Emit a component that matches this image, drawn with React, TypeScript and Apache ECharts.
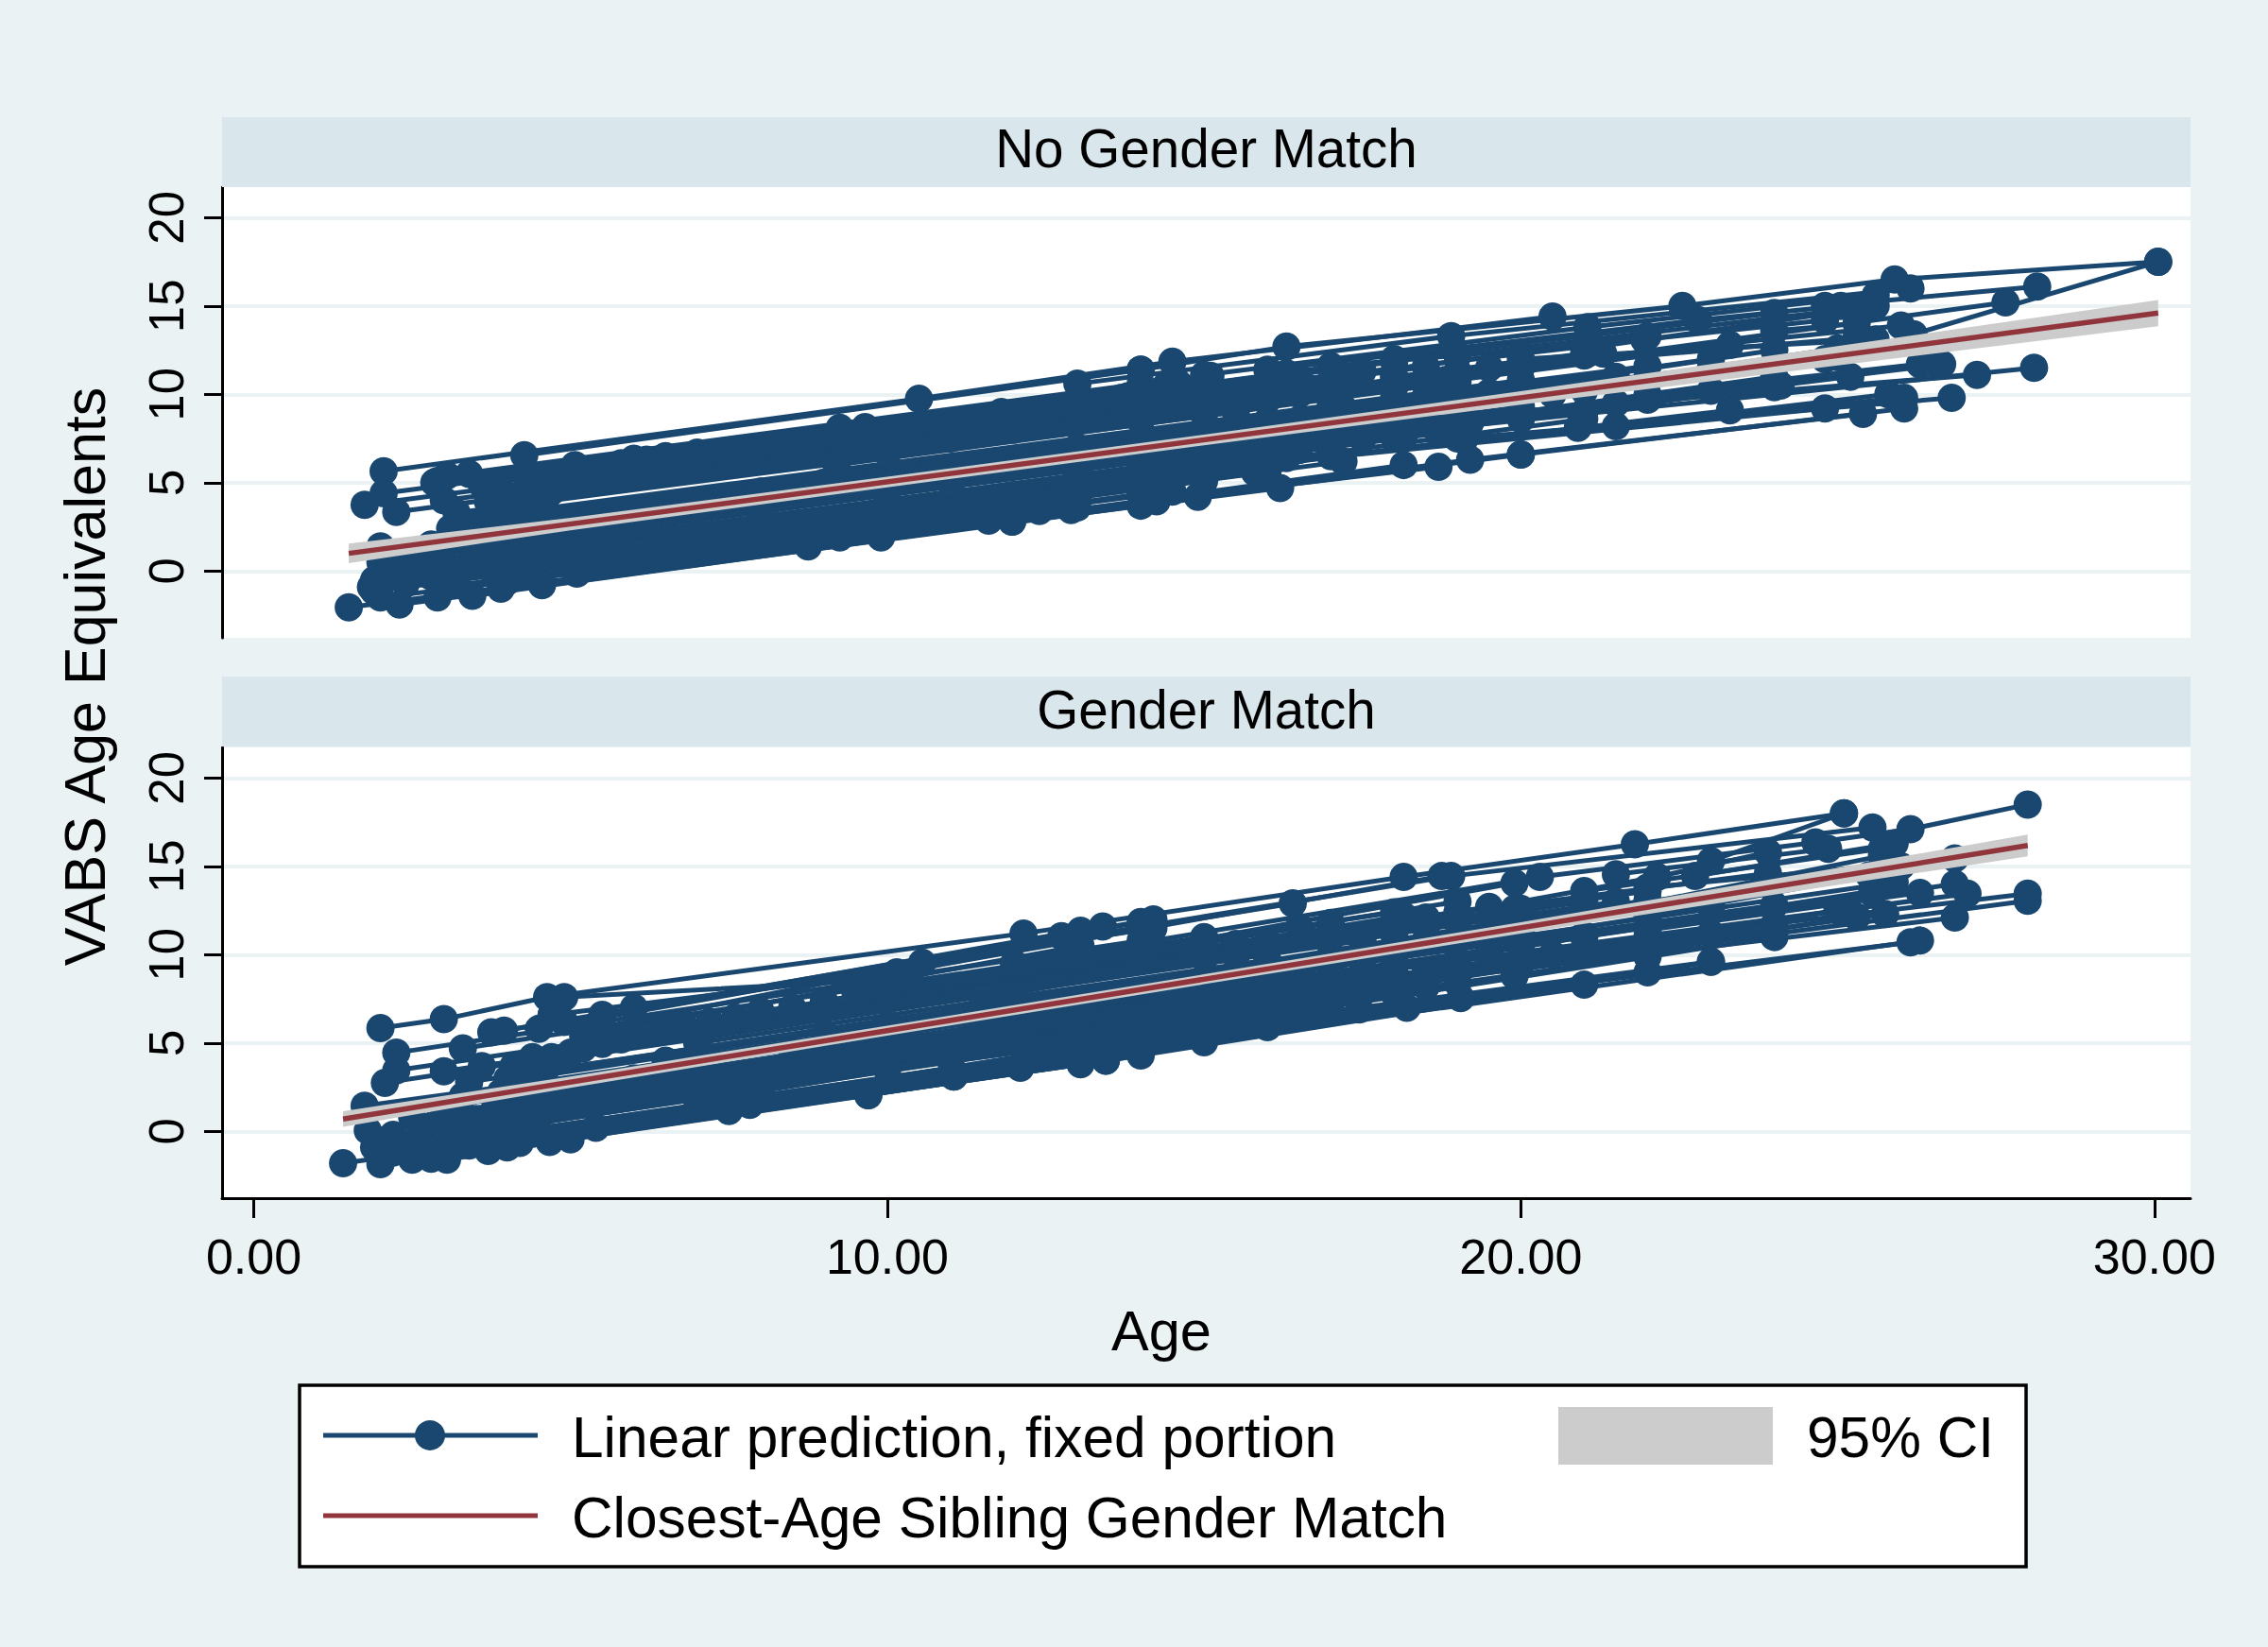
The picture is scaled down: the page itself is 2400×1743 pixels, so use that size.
import React, { useEffect, useRef } from "react";
import * as echarts from "echarts";

const xTicks = [0, 10, 20, 30];
const yTicks = [0, 5, 10, 15, 20];
const panelTitles = ["No Gender Match", "Gender Match"];
const legendLabels = ["Linear prediction, fixed portion", "Closest-Age Sibling Gender Match", "95% CI"];

// Each row: x, y, x, y, ... of one connected trajectory.
const noMatchPaths: number[][] = [
  [1.5,-2.05,16.2,4.7],[2.3,-1.9,14,3.7],[2,-1.5,14.25,3.95],[2.9,-1.5,12.9,3.45],[3.45,-1.4,14.9,4.2],
  [3.9,-1,11.97,2.8],[4.55,-0.8,11.6,2.85],[5.1,-0.15,12.4,3.4],[1.9,-1.15,13,4.1],[1.85,-0.9,14.2,4.9],
  [1.9,-0.5,15,5.4],[2.4,-0.7,15.8,5.6],[3,-0.9,14.5,4.5],[2.1,-0.2,16.3,6.4],[2.4,-0.1,17,6.7],
  [2.8,-0.3,16,5.9],[3.2,-0.4,17.2,6.2],[2.2,0.2,18.15,7.6],[2.6,0.3,17,7.1],[2,0.5,16.5,7.4],
  [2.9,0.4,18.7,7.8],[2.3,0.7,15.5,6.9],[3.3,0.2,19.1,7.4],[3.6,0.5,15.2,6],[2,1.4,19,9.4],
  [2.5,1,18,8.3],[3,1,16.8,7.5],[3.5,1,20,8.6],[4,1.2,17,7.3],[2.8,1.5,18.4,8.8],
  [3.2,1.9,20.5,10],[3.1,2.4,19.5,10.1],[3.5,2.2,16,8.1],[4,2.1,18,8.7],[3.2,3.3,15.5,9],
  [3.6,2.8,17.2,9.2],[2.25,3.35,16.5,10],[4.3,3.2,18.5,9.9],[1.75,3.75,14.1,9.5],[3.7,3.9,16,9.7],
  [3,4,17.3,10.7],[2.05,4.4,13.8,9.9],[4.5,4,18.8,10.8],[3.9,4.6,15.5,10.1],[2.85,5,14.4,10.5],
  [3.05,5.4,14,10.6],[3.4,5.5,15.1,11.05],[4.8,5,16.2,10.4],[4.27,6.55,14,11.4],[5.07,6,14.6,10.6],
  [5,5.6,13.7,9.8],[4.5,5.3,12.9,9.4],[2.05,5.65,10.5,9.75,14.5,11.85,20.5,14.4],[2.9,5.1,9.25,8.1],[3.6,4.9,9.65,8.15],
  [6.2,6.3,11.8,9],[7,6.7,16.3,11.2],[5.5,2.5,14.5,6.9],[6,3,15,7.3],[6,1,14,4.9],
  [6.5,1.3,16,6],[7,3.5,16.5,8.1],[7.2,2,16,6.4],[8,4.5,17,8.7],[8,3,17.5,7.5],
  [8.75,1.4,18.15,6],[9.25,1.9,18.7,5.9],[9.9,1.9,20,6.6],[9,5,18,9.2],[9.2,6,19,10.7],
  [10,4,19.2,8.4],[10,6.7,20,11.5],[11,5,20,9.3],[11,7.5,21.3,12.3],[11.97,2.8,19.2,6.3,25.4,8.9],
  [12,8,21.05,12.3],[12,4.3,21,8.6],[13,9.4,21.95,13.1],[13,5.4,22,9.7],[13,7,21.5,11],
  [14,6,23,10.2],[14,8.5,23.3,12.8],[14,11.4,16.3,12.7,22.55,15,25.9,16.5,30.06,17.5],
  [13,10.6,18.9,13.3,26.15,16],[15,11.1,21.05,13.8,25.6,15.6],[16,11.4,22.8,14.2,25.05,15],[17,11.6,21.95,13.1,24.8,14.2],
  [19,11.3,26,13.9],[26.2,13.4,30.06,17.5],[18,11,25.3,13.2],[24.8,15,28.15,16.1],[20,11.5,27.65,15.2],
  [19,12.2,25.6,15],[20,12,25.6,13.1],[21,12.6,25.3,14.8],[16,8.5,24.8,12],[17,7.5,26.65,11.7],
  [18,7.8,28.1,11.5],[17,8.2,27.2,11.1],[19,7.5,26.8,9.8],[20,6.6,26.05,9.2],[20.9,8.1,26.05,9.8],
  [21.5,8.2,25.8,10],[20,8.7,25.2,11],[21,9,24.1,10.5],[21.5,9.5,26.3,11.7],[15,5.6,23.3,9.1],
  [16,6.1,24.8,9.2],[16,7.4,24,10.4],[22,10,26.5,11.8],[21,10.2,25,12.1],[22,11,25,12.6],
  [20,10.4,24,12.5],[18,9.8,22,11.6],[19,9.8,23,11.5],[18,11,21,12.3],[24,13.6,25.3,14],
  [4,-0.6,13,3.6],[4.2,-0.3,14,4.35],[3.8,-0.2,15,5.1],[4,0.05,16,5.6],[4.3,0.35,14.5,5.15],
  [3.9,0.5,17,6.5],[4.1,0.75,15.5,6.1],[4,1,16.5,6.85],[4.4,1.25,18,7.6],[3.8,1.4,15,6.7],
  [4.2,1.65,17.5,7.95],[4,1.9,16,7.5],[4.5,2.1,19,8.9],[3.9,2.3,15.5,7.75],[4.1,2.55,18,9.1],
  [4.3,2.8,16.5,8.55],[4,3.05,19,10.1],[4.2,3.3,17,9.35],[4.6,3.55,20,10.8],[4.1,3.75,15,8.9],
  [4.4,4,18,10.4],[4,4.25,16,9.9],[4.7,4.5,19.5,11.5],[4.3,4.7,17,10.7],[4.5,4.95,18.5,11.55],
  [5,5.25,16,10.4],[5.2,5.5,17.5,11.3],[5.5,5.8,16.5,10.95],[5.8,6.1,18,11.85],[6,6.35,15,10.6],
  [6.5,6.5,17,11.55],[17,9,23,12],[18,8,24,11],[18,12,24,14.6],[15,9.3,21,12.2],[16,10.5,22,13.3],
];

const matchPaths: number[][] = [
  [1.41,-1.8,12.1,3.6],[2,-1.85,13.05,3.8],[2.5,-1.6,13.45,4],[2.8,-1.55,14,4.6],[3.05,-1.6,11.05,3.1],
  [3.7,-1.1,9.7,2.05],[4.67,-0.6,7.83,1.5,17.45,6.9],[5,-0.45,7.5,1.15,18.2,7],[5.4,0.2,19.05,7.55],[2.2,-1.2,15,5.6],
  [1.9,-0.9,16,6.6],[2,-0.6,15.5,6.8],[2.4,-0.9,14.5,5.4],[3,-1,15.7,6.2],[1.8,0.05,16.5,7.5],
  [2.2,-0.2,17,7.6],[2.6,-0.4,18,8.1],[3.4,-0.8,16.7,6.9],[3.2,-0.2,18.5,8.2],[2.8,0.3,17.3,8],
  [3.6,0,19,8.4],[4,0.2,16,6.8],[1.75,1.45,17,8.9],[2.5,0.8,18,9],[3,0.9,19.9,8.8],
  [3.5,0.7,20.5,10],[4,1,18.7,9.2],[4.5,0.8,17.8,8.4],[3.2,1.5,21,11.1],[2.07,2.75,16,10.3],
  [3.3,2,17.5,9.6],[3.9,1.8,19.5,10.2],[4.6,1.5,21,11],[2.25,3.45,15.5,10.4],[3.4,2.8,20,11.6],
  [3,3.4,18.5,11.5],[4.1,2.9,17,10],[3.6,3.7,21.5,13],[2.25,4.45,14,10.8],[3.3,4.7,15,11],
  [3.75,5.6,16.4,12.9],[3.95,5.7,14.2,12],[4.5,5.8,14,11.85],[4.4,4.2,18.15,12.2],[5,4.4,19.9,12.6],
  [4.9,6.2,13.4,11.6],[5.2,5.4,13.05,10.5],[5.5,5.9,12.75,11.05],[2,5.85,3,6.35,4.63,7.6,12.15,11.2,18.15,14.4,21.8,16.25,25.1,18],
  [4.9,7.6,9.8,8.55,13.05,11.35],[4.7,6.6,10.15,9,18.75,14.45],[5.5,6.6,10.55,9.55,18.9,14.45,25.55,17.2],[6,7,14.2,11.5],
  [6,3,16,8.3],[6.5,4,17,9.6],[7,1.7,15,6.3],[7,5,16,9.7],[7,3,18,9.5],
  [8,6.8,17,11.8],[8,2.5,19,8.9],[8.5,4.5,20,11.3],[9,5.5,21,12.6],[9,7.3,19,13],
  [9.7,2.05,22,9],[10,3.5,23,9.6],[10,6,22,13.1],[10.5,8,19.9,14.05],[11,4,26.15,10.7],
  [11.5,7.5,22.15,14.4],[11.05,3.1,26.3,10.8],[12,5.5,22,11],[12,9.5,20.3,14.4,24.65,16.35,26.15,17.1,28,18.5],[13,4.8,24,11],
  [13,7,23,12.7],[13.45,4,21,8.3],[14,6.3,25,12.5],[14,4.6,23,9.6],[15,8,26.85,14],
  [15,6.5,25.3,12.15],[14.5,7.5,25.55,13.45],[16,7.5,26.85,12.1],[17,7.9,28,13.05],[17,8.8,28,13.45],
  [18,9.2,27.05,13.45],[18,10,25.9,14.1],[19,9,25.75,12.3],[20,9.5,25,12.5],[20,10.5,25.55,13.6],
  [20,11.5,25.7,15.6],[19,12.4,23.9,14.6],[21.5,14.55,24.85,16],[22.15,14.4,23.9,15.8],[21,13.6,25.7,16],
  [22,13.8,26.85,15.45],[22.75,14.45,25.9,16.3],[23,15.3,25.1,18],[20,12,26,15],[22,11.4,26.3,13.5],[22,12.2,25.5,14.5],
  [4,-0.9,14,4.3],[4.2,-0.65,15,5.05],[3.8,-0.5,16,5.9],[4,-0.25,14.5,5.3],[4.3,0.05,17,6.75],
  [3.9,0.3,15.5,6.45],[4.1,0.55,18,7.8],[4,0.8,16,7.2],[4.4,1.05,17.5,8],[3.8,1.25,15,7.2],
  [4.2,1.5,18.5,9.05],[4,1.75,16,8.15],[4.5,2,19,9.7],[3.9,2.2,16.5,8.9],[4.1,2.45,18,9.85],
  [4.3,2.7,17,9.45],[4,2.95,19.5,11.2],[4.2,3.2,16,9.5],[4.6,3.45,20,11.6],[4.1,3.7,17.5,10.8],
  [4.4,3.95,18,11.15],[4.7,4.2,15.5,9.95],[5,4.45,19,11.85],[5.2,4.7,17,10.95],[5.5,4.95,20,12.6],
  [5.8,5.2,16,10.6],[6,5.45,18.5,12.1],[6.4,5.7,17,11.3],[6.8,5.95,19.5,12.7],[7.2,6.2,15.5,10.6],
  [7.6,6.45,18,12],[8,6.7,14,9.9],[8.5,7,17,11.5],[9,7.4,15,10.6],[9.5,7.8,16.5,11.55],[10,8.1,18,12.4],
  [17,8.4,23,11.2],[17,9.3,24,12.8],[18,8.6,24,11.7],[16,6.9,22,9.9],[15,9.8,21,13],[16,10.6,22,13.6],
];

const noMatchFitX = [1.5, 30.06];
const noMatchFitY = [1.0, 14.6];
const noMatchCiX = [1.5, 5, 10, 15, 20, 25, 30.06];
const noMatchCiLow = [0.45, 2.31, 4.74, 7.12, 9.42, 11.63, 13.86];
const noMatchCiHigh = [1.55, 3.01, 5.34, 7.72, 10.18, 12.73, 15.34];

const matchFitX = [1.41, 28];
const matchFitY = [0.7, 16.18];
const matchCiX = [1.41, 5, 10, 15, 20, 25, 28];
const matchCiLow = [0.26, 2.47, 5.42, 8.33, 11.2, 13.95, 15.56];
const matchCiHigh = [1.14, 3.11, 5.98, 8.89, 11.84, 14.91, 16.8];

const NAVY = "#1a476f";
const MAROON = "#90353b";
const GREY = "#cccccc";
const FONT = "Liberation Sans";

const pairs = (row: number[]) => {
  const out: number[][] = [];
  for (let i = 0; i < row.length; i += 2) out.push([row[i], row[i + 1]]);
  return out;
};
const zip = (a: number[], b: number[]) => a.map((v, i) => [v, b[i]]);

function panelSeries(idx: number, paths: number[][], fx: number[], fy: number[], cx: number[], lo: number[], hi: number[]) {
  const list: any[] = paths.map((row) => ({
    type: "line",
    xAxisIndex: idx,
    yAxisIndex: idx,
    data: pairs(row),
    symbol: "circle",
    symbolSize: 30,
    showAllSymbol: true,
    clip: false,
    silent: true,
    z: 3,
    lineStyle: { color: NAVY, width: 5 },
    itemStyle: { color: NAVY },
  }));
  list.push({
    type: "custom",
    xAxisIndex: idx,
    yAxisIndex: idx,
    silent: true,
    z: 4,
    data: cx.map((x, i) => [x, lo[i], hi[i]]),
    encode: { x: 0, y: [1, 2] },
    renderItem: (params: any, api: any) => {
      if (params.dataIndex !== 0) return null;
      const top = cx.map((x, i) => api.coord([x, hi[i]]));
      const bot = cx.map((x, i) => api.coord([x, lo[i]])).reverse();
      return { type: "polygon", shape: { points: top.concat(bot) }, style: { fill: GREY } };
    },
  });
  list.push({
    type: "line",
    xAxisIndex: idx,
    yAxisIndex: idx,
    data: zip(fx, fy),
    symbol: "none",
    silent: true,
    z: 5,
    lineStyle: { color: MAROON, width: 5.5 },
  });
  return list;
}

const GRID_LEFT = 235;
const GRID_W = 2083;
const GRID_H = 477;
const TOPS = [198, 791];
const STRIPS = [124, 716];

const txt = (text: string, x: number, y: number, size: number, extra: any = {}, rotation = 0) => ({
  type: "text",
  x,
  y,
  z: 20,
  rotation,
  style: { text, fontSize: size, fontFamily: FONT, fill: "#000", align: "left", verticalAlign: "middle", ...extra },
});

export default function App() {
  const ref = useRef<HTMLDivElement>(null);
  useEffect(() => {
    document.body.style.margin = "0";
    const chart = echarts.init(ref.current!, null, { renderer: "svg" });
    const yAxis = (gridIndex: number) => ({
      type: "value",
      gridIndex,
      min: -3.78,
      max: 21.73,
      axisLine: { show: true, onZero: false, lineStyle: { color: "#000", width: 3 } },
      axisTick: { show: true, length: 19, customValues: yTicks, lineStyle: { color: "#000", width: 3 } },
      axisLabel: { customValues: yTicks, rotate: 90, fontSize: 51, fontFamily: FONT, color: "#000", margin: 33 },
      splitLine: { show: true, lineStyle: { color: "#eaf2f3", width: 4 } },
    });
    const xAxis = (gridIndex: number, visible: boolean) => ({
      type: "value",
      gridIndex,
      min: -0.5,
      max: 30.57,
      axisLine: { show: visible, onZero: false, lineStyle: { color: "#000", width: 3 } },
      axisTick: { show: visible, length: 21, customValues: xTicks, lineStyle: { color: "#000", width: 3 } },
      axisLabel: {
        show: visible,
        customValues: xTicks,
        fontSize: 52,
        fontFamily: FONT,
        color: "#000",
        margin: 36,
        formatter: (v: number) => v.toFixed(2),
      },
      splitLine: { show: false },
    });
    const strips = STRIPS.map((y) => ({
      type: "rect",
      z: 1,
      shape: { x: GRID_LEFT, y, width: GRID_W, height: 74 },
      style: { fill: "#d9e6eb" },
    }));
    const titles = panelTitles.map((t, i) =>
      txt(t, 1276.5, STRIPS[i] + 33 + i * 2, 56.6, { align: "center" }),
    );
    chart.setOption({
      animation: false,
      backgroundColor: "#eaf2f3",
      grid: TOPS.map((top) => ({
        left: GRID_LEFT,
        top,
        width: GRID_W,
        height: GRID_H,
        show: true,
        backgroundColor: "#fff",
        borderWidth: 0,
      })),
      xAxis: [xAxis(0, false), xAxis(1, true)],
      yAxis: [yAxis(0), yAxis(1)],
      series: [
        ...panelSeries(0, noMatchPaths, noMatchFitX, noMatchFitY, noMatchCiX, noMatchCiLow, noMatchCiHigh),
        ...panelSeries(1, matchPaths, matchFitX, matchFitY, matchCiX, matchCiLow, matchCiHigh),
      ],
      graphic: [
        ...strips,
        ...titles,
        txt("VABS Age Equivalents", 90, 716, 61, { align: "center" }, Math.PI / 2),
        txt("Age", 1229, 1408, 59.5, { align: "center" }),
        { type: "rect", z: 10, shape: { x: 317, y: 1466, width: 1827, height: 192 }, style: { fill: "#fff", stroke: "#000", lineWidth: 3.5 } },
        { type: "line", z: 11, shape: { x1: 342, y1: 1519, x2: 569, y2: 1519 }, style: { stroke: NAVY, lineWidth: 5 } },
        { type: "circle", z: 11, shape: { cx: 455, cy: 1519, r: 16 }, style: { fill: NAVY } },
        { type: "line", z: 11, shape: { x1: 342, y1: 1604, x2: 569, y2: 1604 }, style: { stroke: MAROON, lineWidth: 5 } },
        { type: "rect", z: 11, shape: { x: 1649, y: 1489, width: 227, height: 61 }, style: { fill: GREY } },
        txt(legendLabels[0], 605, 1521, 60.4),
        txt(legendLabels[1], 605, 1606, 60.4),
        txt(legendLabels[2], 1912, 1521, 60.4),
      ],
    });
    return () => chart.dispose();
  }, []);
  return <div ref={ref} style={{ width: 2400, height: 1743 }} />;
}
